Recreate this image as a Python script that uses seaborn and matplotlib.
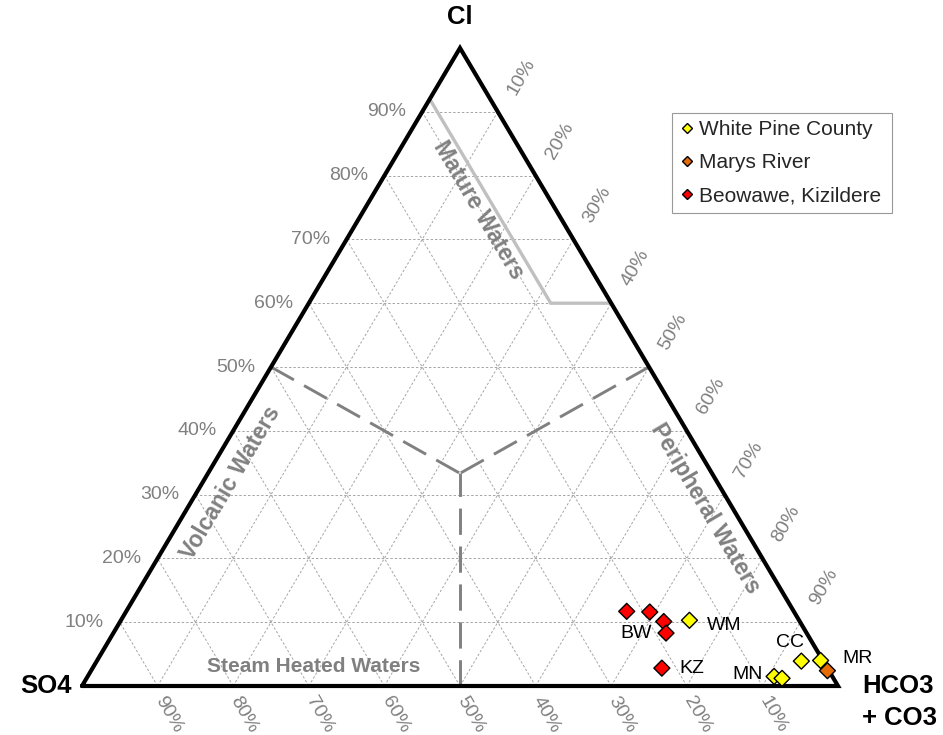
import matplotlib
matplotlib.use("Agg")
import matplotlib.pyplot as plt
import numpy as np
import pandas as pd
import seaborn as sns

# Sample compositions, percent of Cl + SO4 + (HCO3 + CO3)
sample_group = ["White Pine County"] * 5 + ["Marys River"] + ["Beowawe, Kizildere"] * 5
sample_so4 = [14.5, 2.9, 0.3, 7.7, 6.8, 0.2, 22.1, 19.1, 18.0, 18.6, 21.9]
sample_hco3 = [75.2, 93.2, 95.7, 90.8, 92.0, 97.4, 66.2, 69.3, 71.9, 73.1, 75.3]
sample_cl = [10.3, 3.9, 4.0, 1.5, 1.2, 2.4, 11.7, 11.6, 10.1, 8.3, 2.8]

# Site codes and the sample each one is written beside
site_codes = ["WM", "CC", "MR", "MN", "BW", "KZ"]
site_sample = [0, 1, 2, 3, 9, 10]

group_order = ["White Pine County", "Marys River", "Beowawe, Kizildere"]
group_colors = ["#ffff00", "#e36c09", "#ff0000"]

grid_levels = [10, 20, 30, 40, 50, 60, 70, 80, 90]

# Mature-waters boundary (SO4, HCO3, Cl)
mature_so4 = [8, 8, 0]
mature_hco3 = [0, 32, 40]
mature_cl = [92, 60, 60]

# Field boundaries meeting at the centroid (SO4, HCO3, Cl)
field_starts = [(50, 0, 50), (0, 50, 50), (50, 50, 0)]
centroid = (100 / 3, 100 / 3, 100 / 3)

corner_names = ["Cl", "SO4", "HCO3", "+ CO3"]
field_names = ["Mature Waters", "Volcanic Waters", "Peripheral Waters", "Steam Heated Waters"]


def to_xy(so4, hco3, cl):
    so4, hco3, cl = (np.asarray(v, dtype=float) for v in (so4, hco3, cl))
    tot = so4 + hco3 + cl
    return (hco3 + cl / 2) / tot, cl / tot


sns.set_style("white")
plt.rcParams["font.family"] = ["Liberation Sans", "DejaVu Sans"]

W, H = 943, 735
fig = plt.figure(figsize=(W / 100, H / 100), dpi=100)
ax = fig.add_axes([82 / W, 49 / H, 756 / W, 638 / H])
ax.set_xlim(0, 1)
ax.set_ylim(0, 1)
ax.axis("off")

grey_text = "#808080"
grid_kw = dict(color="#a6a6a6", lw=0.7, ls=(0, (2.5, 2)), zorder=1, clip_on=False)

# Grid lines for each component
for g in grid_levels:
    r = 100 - g
    for a, b in (((r, 0, g), (0, r, g)),      # constant Cl
                 ((r, g, 0), (0, g, r)),      # constant HCO3
                 ((g, r, 0), (g, 0, r))):     # constant SO4
        x, y = to_xy(*zip(a, b))
        ax.plot(x, y, **grid_kw)

# Field boundaries
for s in field_starts:
    x, y = to_xy(*zip(s, centroid))
    ax.plot(x, y, color="#808080", lw=2.1, ls=(0, (9, 4)), zorder=2,
            solid_capstyle="butt", dash_capstyle="butt")
x, y = to_xy(mature_so4, mature_hco3, mature_cl)
ax.plot(x, y, color="#c0c0c0", lw=2.4, zorder=2, solid_joinstyle="miter")

# Triangle outline
x, y = to_xy([100, 0, 0, 100], [0, 100, 0, 0], [0, 0, 100, 0])
ax.plot(x, y, color="black", lw=3, zorder=3, solid_joinstyle="miter", clip_on=False)

# Axis percentage labels
for g in grid_levels:
    lab = f"{g}%"
    xl, yl = to_xy(100 - g, 0, g)
    ax.annotate(lab, (xl, yl), xytext=(-16, 0), textcoords="offset pixels",
                ha="right", va="center", fontsize=14, color=grey_text)
    xr, yr = to_xy(0, g, 100 - g)
    ax.annotate(lab, (xr, yr), xytext=(24, 35), textcoords="offset pixels",
                ha="center", va="center", rotation=60, rotation_mode="anchor",
                fontsize=14, color=grey_text)
    xb, yb = to_xy(g, 100 - g, 0)
    ax.annotate(lab, (xb, yb), xytext=(11, -29), textcoords="offset pixels",
                ha="center", va="center", rotation=-60, rotation_mode="anchor",
                fontsize=14, color=grey_text)

# Corner labels
corner_kw = dict(textcoords="offset pixels", fontsize=18.5, fontweight="bold",
                 color="black", va="center")
ax.annotate(corner_names[0], to_xy(0, 0, 100), xytext=(0, 31), ha="center", **corner_kw)
ax.annotate(corner_names[1], to_xy(100, 0, 0), xytext=(-10, 0), ha="right", **corner_kw)
ax.annotate(corner_names[2], to_xy(0, 100, 0), xytext=(24, 0), ha="left", **corner_kw)
ax.annotate(corner_names[3], to_xy(0, 100, 0), xytext=(24, -32), ha="left", **corner_kw)

# Field names, rotated along the sides
p0 = ax.transData.transform((0, 0))
p1 = ax.transData.transform((0.5, 1))
p2 = ax.transData.transform((1, 0))
ang_left = np.degrees(np.arctan2(p1[1] - p0[1], p1[0] - p0[0]))
ang_right = np.degrees(np.arctan2(p2[1] - p1[1], p2[0] - p1[0]))
field_kw = dict(fontweight="bold", color=grey_text,
                ha="center", va="center", rotation_mode="anchor", zorder=4)
ax.text(0.524, 0.746, field_names[0], rotation=ang_right, fontsize=16.5, **field_kw)
ax.text(0.197, 0.318, field_names[1], rotation=ang_left, fontsize=16.5, **field_kw)
ax.text(0.824, 0.279, field_names[2], rotation=ang_right, fontsize=16.5, **field_kw)
ax.text(0.307, 0.031, field_names[3], rotation=0, fontsize=15, **field_kw)

# Samples
px, py = to_xy(sample_so4, sample_hco3, sample_cl)
df = pd.DataFrame({"x": px, "y": py, "group": sample_group})
sns.scatterplot(data=df, x="x", y="y", hue="group", hue_order=group_order,
                palette=dict(zip(group_order, group_colors)), marker="D", s=66,
                edgecolor="black", linewidth=1.0, zorder=5, clip_on=False, ax=ax)

code_offsets = {"WM": (17, -5, "left"), "CC": (-11, 19, "center"),
                "MR": (22, 2, "left"), "MN": (-11, 2, "right"),
                "BW": (-14, 0, "right"), "KZ": (18, 0, "left")}
for code, i in zip(site_codes, site_sample):
    dx, dy, ha = code_offsets[code]
    ax.annotate(code, (px[i], py[i]), xytext=(dx, dy), textcoords="offset pixels",
                ha=ha, va="center", fontsize=14, color="black", zorder=6)

sns.move_legend(ax, "upper left",
                bbox_to_anchor=(672 / W, 1 - 212 / H, 220 / W, 99 / H),
                bbox_transform=fig.transFigure, mode="expand", title=None, frameon=True,
                fontsize=15, markerscale=0.68, handlelength=0.75, handletextpad=0.2,
                borderpad=0.35, labelspacing=0.68, borderaxespad=0, fancybox=False,
                edgecolor="#808080")
leg = ax.get_legend()
leg.get_frame().set_linewidth(0.8)
for h in leg.legend_handles:
    try:
        h.set_edgecolor("black")
    except AttributeError:
        h.set_markeredgecolor("black")

fig.savefig("out.png", dpi=100, facecolor="white")
